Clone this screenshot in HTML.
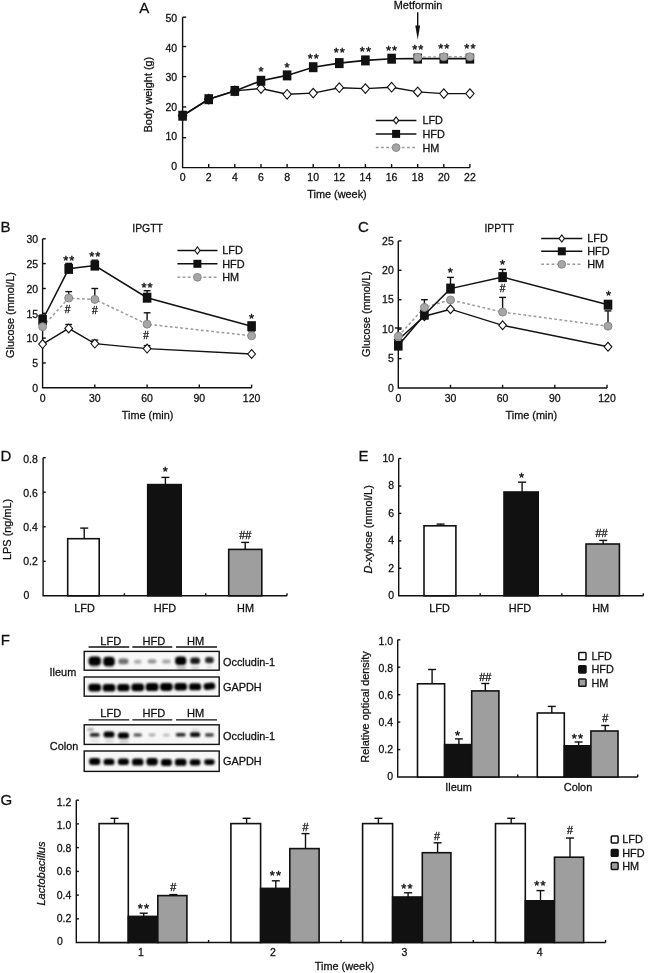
<!DOCTYPE html>
<html lang="en"><head><meta charset="utf-8"><title>Figure</title>
<style>html,body{margin:0;padding:0;background:#fff}svg{display:block;filter:blur(.35px)}text{stroke:#111;stroke-width:.28px}</style></head><body>
<svg width="650" height="973" viewBox="0 0 650 973" font-family='"Liberation Sans", sans-serif'>
<defs><filter id="bl" x="-5%" y="-50%" width="110%" height="200%"><feGaussianBlur stdDeviation="0.85"/></filter><filter id="bl2" x="-5%" y="-50%" width="110%" height="200%"><feGaussianBlur stdDeviation="0.7"/></filter><filter id="bl3" x="-5%" y="-50%" width="110%" height="200%"><feGaussianBlur stdDeviation="1.05"/></filter></defs>
<rect width="650" height="973" fill="#fff"/>
<polyline points="182.6,17.2 182.6,167.6 469.9,167.6" fill="none" stroke="#111" stroke-width="1.4" />
<line x1="208.7" y1="167.6" x2="208.7" y2="164.0" stroke="#111" stroke-width="1.4" />
<line x1="234.8" y1="167.6" x2="234.8" y2="164.0" stroke="#111" stroke-width="1.4" />
<line x1="261.0" y1="167.6" x2="261.0" y2="164.0" stroke="#111" stroke-width="1.4" />
<line x1="287.1" y1="167.6" x2="287.1" y2="164.0" stroke="#111" stroke-width="1.4" />
<line x1="313.2" y1="167.6" x2="313.2" y2="164.0" stroke="#111" stroke-width="1.4" />
<line x1="339.3" y1="167.6" x2="339.3" y2="164.0" stroke="#111" stroke-width="1.4" />
<line x1="365.4" y1="167.6" x2="365.4" y2="164.0" stroke="#111" stroke-width="1.4" />
<line x1="391.6" y1="167.6" x2="391.6" y2="164.0" stroke="#111" stroke-width="1.4" />
<line x1="417.7" y1="167.6" x2="417.7" y2="164.0" stroke="#111" stroke-width="1.4" />
<line x1="443.8" y1="167.6" x2="443.8" y2="164.0" stroke="#111" stroke-width="1.4" />
<line x1="469.9" y1="167.6" x2="469.9" y2="164.0" stroke="#111" stroke-width="1.4" />
<line x1="182.6" y1="137.7" x2="186.2" y2="137.7" stroke="#111" stroke-width="1.4" />
<line x1="182.6" y1="107.0" x2="186.2" y2="107.0" stroke="#111" stroke-width="1.4" />
<line x1="182.6" y1="76.6" x2="186.2" y2="76.6" stroke="#111" stroke-width="1.4" />
<line x1="182.6" y1="46.5" x2="186.2" y2="46.5" stroke="#111" stroke-width="1.4" />
<line x1="182.6" y1="17.2" x2="186.2" y2="17.2" stroke="#111" stroke-width="1.4" />
<text x="177.2" y="169.6" font-size="10.5" text-anchor="end" fill="#111" >0</text>
<text x="177.2" y="140.1" font-size="10.5" text-anchor="end" fill="#111" >10</text>
<text x="177.2" y="110.6" font-size="10.5" text-anchor="end" fill="#111" >20</text>
<text x="177.2" y="81.1" font-size="10.5" text-anchor="end" fill="#111" >30</text>
<text x="177.2" y="51.6" font-size="10.5" text-anchor="end" fill="#111" >40</text>
<text x="177.2" y="22.1" font-size="10.5" text-anchor="end" fill="#111" >50</text>
<text x="182.6" y="181.0" font-size="10.5" text-anchor="middle" fill="#111" >0</text>
<text x="208.7" y="181.0" font-size="10.5" text-anchor="middle" fill="#111" >2</text>
<text x="234.8" y="181.0" font-size="10.5" text-anchor="middle" fill="#111" >4</text>
<text x="261.0" y="181.0" font-size="10.5" text-anchor="middle" fill="#111" >6</text>
<text x="287.1" y="181.0" font-size="10.5" text-anchor="middle" fill="#111" >8</text>
<text x="313.2" y="181.0" font-size="10.5" text-anchor="middle" fill="#111" >10</text>
<text x="339.3" y="181.0" font-size="10.5" text-anchor="middle" fill="#111" >12</text>
<text x="365.4" y="181.0" font-size="10.5" text-anchor="middle" fill="#111" >14</text>
<text x="391.6" y="181.0" font-size="10.5" text-anchor="middle" fill="#111" >16</text>
<text x="417.7" y="181.0" font-size="10.5" text-anchor="middle" fill="#111" >18</text>
<text x="443.8" y="181.0" font-size="10.5" text-anchor="middle" fill="#111" >20</text>
<text x="469.9" y="181.0" font-size="10.5" text-anchor="middle" fill="#111" >22</text>
<text x="337.0" y="197.6" font-size="10.9" text-anchor="middle" fill="#111" >Time (week)</text>
<text transform="translate(152.3,94.6) rotate(-90)" font-size="10.9" text-anchor="middle" fill="#111" >Body weight (g)</text>
<text x="139.3" y="12.6" font-size="15" text-anchor="start" fill="#111" >A</text>
<polyline points="182.6,115.7 208.7,99.2 234.8,90.9 261.0,88.5 287.1,94.3 313.2,93.1 339.3,87.7 365.4,88.6 391.6,87.2 417.7,91.9 443.8,93.6 469.9,93.6" fill="none" stroke="#111" stroke-width="1.4" />
<polygon points="178.4,115.7 182.6,110.9 186.8,115.7 182.6,120.5" fill="#fff" stroke="#111" stroke-width="1.1"/>
<polygon points="204.5,99.2 208.7,94.4 212.9,99.2 208.7,104.0" fill="#fff" stroke="#111" stroke-width="1.1"/>
<polygon points="230.6,90.9 234.8,86.1 239.0,90.9 234.8,95.7" fill="#fff" stroke="#111" stroke-width="1.1"/>
<polygon points="256.8,88.5 261.0,83.7 265.2,88.5 261.0,93.3" fill="#fff" stroke="#111" stroke-width="1.1"/>
<polygon points="282.9,94.3 287.1,89.5 291.3,94.3 287.1,99.1" fill="#fff" stroke="#111" stroke-width="1.1"/>
<polygon points="309.0,93.1 313.2,88.3 317.4,93.1 313.2,97.9" fill="#fff" stroke="#111" stroke-width="1.1"/>
<polygon points="335.1,87.7 339.3,82.9 343.5,87.7 339.3,92.5" fill="#fff" stroke="#111" stroke-width="1.1"/>
<polygon points="361.2,88.6 365.4,83.8 369.6,88.6 365.4,93.4" fill="#fff" stroke="#111" stroke-width="1.1"/>
<polygon points="387.4,87.2 391.6,82.4 395.8,87.2 391.6,92.0" fill="#fff" stroke="#111" stroke-width="1.1"/>
<polygon points="413.5,91.9 417.7,87.1 421.9,91.9 417.7,96.7" fill="#fff" stroke="#111" stroke-width="1.1"/>
<polygon points="439.6,93.6 443.8,88.8 448.0,93.6 443.8,98.4" fill="#fff" stroke="#111" stroke-width="1.1"/>
<polygon points="465.7,93.6 469.9,88.8 474.1,93.6 469.9,98.4" fill="#fff" stroke="#111" stroke-width="1.1"/>
<polyline points="182.6,115.7 208.7,99.2 234.8,90.9 261.0,80.8 287.1,75.4 313.2,67.2 339.3,63.1 365.4,60.4 391.6,58.7 417.7,58.6 443.8,58.6 469.9,58.6" fill="none" stroke="#111" stroke-width="1.6" />
<rect x="178.3" y="110.7" width="8.6" height="10.0" fill="#111"/>
<rect x="204.4" y="94.2" width="8.6" height="10.0" fill="#111"/>
<rect x="230.5" y="85.9" width="8.6" height="10.0" fill="#111"/>
<rect x="256.7" y="75.8" width="8.6" height="10.0" fill="#111"/>
<rect x="282.8" y="70.4" width="8.6" height="10.0" fill="#111"/>
<rect x="308.9" y="62.2" width="8.6" height="10.0" fill="#111"/>
<rect x="335.0" y="58.1" width="8.6" height="10.0" fill="#111"/>
<rect x="361.1" y="55.4" width="8.6" height="10.0" fill="#111"/>
<rect x="387.3" y="53.7" width="8.6" height="10.0" fill="#111"/>
<rect x="413.4" y="53.6" width="8.6" height="10.0" fill="#111"/>
<rect x="439.5" y="53.6" width="8.6" height="10.0" fill="#111"/>
<rect x="465.6" y="53.6" width="8.6" height="10.0" fill="#111"/>
<polyline points="417.7,57.3 443.8,56.8 469.9,56.8" fill="none" stroke="#9a9a9a" stroke-width="1.5" stroke-dasharray="2.8,2.4"/>
<circle cx="417.7" cy="57.3" r="4.0" fill="#a6a6a6" stroke="#828282" stroke-width="0.9"/>
<circle cx="443.8" cy="56.8" r="4.0" fill="#a6a6a6" stroke="#828282" stroke-width="0.9"/>
<circle cx="469.9" cy="56.8" r="4.0" fill="#a6a6a6" stroke="#828282" stroke-width="0.9"/>
<text x="261.0" y="75.5" font-size="13" text-anchor="middle" fill="#111" letter-spacing="0" style="stroke-width:.4px">*</text>
<text x="287.1" y="71.5" font-size="13" text-anchor="middle" fill="#111" letter-spacing="0" style="stroke-width:.4px">*</text>
<text x="313.7" y="62.5" font-size="13" text-anchor="middle" fill="#111" letter-spacing="1.0" style="stroke-width:.4px">**</text>
<text x="339.8" y="57.4" font-size="13" text-anchor="middle" fill="#111" letter-spacing="1.0" style="stroke-width:.4px">**</text>
<text x="365.9" y="56.0" font-size="13" text-anchor="middle" fill="#111" letter-spacing="1.0" style="stroke-width:.4px">**</text>
<text x="392.1" y="55.2" font-size="13" text-anchor="middle" fill="#111" letter-spacing="1.0" style="stroke-width:.4px">**</text>
<text x="418.2" y="53.7" font-size="13" text-anchor="middle" fill="#111" letter-spacing="1.0" style="stroke-width:.4px">**</text>
<text x="444.3" y="52.7" font-size="13" text-anchor="middle" fill="#111" letter-spacing="1.0" style="stroke-width:.4px">**</text>
<text x="470.4" y="52.7" font-size="13" text-anchor="middle" fill="#111" letter-spacing="1.0" style="stroke-width:.4px">**</text>
<text x="418.0" y="9.4" font-size="10.9" text-anchor="middle" fill="#111" >Metformin</text>
<line x1="417.7" y1="12.3" x2="417.7" y2="27.0" stroke="#111" stroke-width="1.4" />
<polygon points="415.3,25.4 420.1,25.4 417.7,39.7" fill="#111"/>
<line x1="375.8" y1="120.4" x2="416.4" y2="120.4" stroke="#111" stroke-width="1.5" />
<polygon points="393.5,120.4 396.1,116.9 398.7,120.4 396.1,123.9" fill="#fff" stroke="#111" stroke-width="1.1"/>
<line x1="375.8" y1="133.9" x2="416.4" y2="133.9" stroke="#111" stroke-width="1.5" />
<rect x="392.1" y="129.9" width="8.0" height="8.0" fill="#111"/>
<line x1="375.8" y1="147.6" x2="416.4" y2="147.6" stroke="#9a9a9a" stroke-width="1.5" stroke-dasharray="2.8,2.4"/>
<circle cx="396.1" cy="147.6" r="3.9" fill="#a6a6a6" stroke="#828282" stroke-width="0.9"/>
<text x="422.4" y="124.3" font-size="10.9" text-anchor="start" fill="#111" >LFD</text>
<text x="422.4" y="137.8" font-size="10.9" text-anchor="start" fill="#111" >HFD</text>
<text x="422.4" y="151.5" font-size="10.9" text-anchor="start" fill="#111" >HM</text>
<polyline points="42.6,238.8 42.6,387.8 251.6,387.8" fill="none" stroke="#111" stroke-width="1.4" />
<line x1="94.8" y1="387.8" x2="94.8" y2="384.6" stroke="#111" stroke-width="1.4" />
<line x1="147.1" y1="387.8" x2="147.1" y2="384.6" stroke="#111" stroke-width="1.4" />
<line x1="199.3" y1="387.8" x2="199.3" y2="384.6" stroke="#111" stroke-width="1.4" />
<line x1="251.6" y1="387.8" x2="251.6" y2="384.6" stroke="#111" stroke-width="1.4" />
<line x1="42.6" y1="363.0" x2="45.8" y2="363.0" stroke="#111" stroke-width="1.4" />
<line x1="42.6" y1="338.1" x2="45.8" y2="338.1" stroke="#111" stroke-width="1.4" />
<line x1="42.6" y1="313.3" x2="45.8" y2="313.3" stroke="#111" stroke-width="1.4" />
<line x1="42.6" y1="288.5" x2="45.8" y2="288.5" stroke="#111" stroke-width="1.4" />
<line x1="42.6" y1="263.6" x2="45.8" y2="263.6" stroke="#111" stroke-width="1.4" />
<line x1="42.6" y1="238.8" x2="45.8" y2="238.8" stroke="#111" stroke-width="1.4" />
<text x="38.1" y="392.0" font-size="10.5" text-anchor="end" fill="#111" >0</text>
<text x="38.1" y="367.2" font-size="10.5" text-anchor="end" fill="#111" >5</text>
<text x="38.1" y="342.3" font-size="10.5" text-anchor="end" fill="#111" >10</text>
<text x="38.1" y="317.5" font-size="10.5" text-anchor="end" fill="#111" >15</text>
<text x="38.1" y="292.7" font-size="10.5" text-anchor="end" fill="#111" >20</text>
<text x="38.1" y="267.8" font-size="10.5" text-anchor="end" fill="#111" >25</text>
<text x="38.1" y="243.0" font-size="10.5" text-anchor="end" fill="#111" >30</text>
<text x="42.6" y="402.0" font-size="10.5" text-anchor="middle" fill="#111" >0</text>
<text x="94.8" y="402.0" font-size="10.5" text-anchor="middle" fill="#111" >30</text>
<text x="147.1" y="402.0" font-size="10.5" text-anchor="middle" fill="#111" >60</text>
<text x="199.3" y="402.0" font-size="10.5" text-anchor="middle" fill="#111" >90</text>
<text x="251.6" y="402.0" font-size="10.5" text-anchor="middle" fill="#111" >120</text>
<text x="147.6" y="418.5" font-size="10.9" text-anchor="middle" fill="#111" >Time (min)</text>
<text transform="translate(13.8,315.0) rotate(-90)" font-size="10.9" text-anchor="middle" fill="#111" >Glucose (mmol/L)</text>
<text x="0.6" y="232.2" font-size="15" text-anchor="start" fill="#111" >B</text>
<text x="147.6" y="231.5" font-size="10.4" text-anchor="middle" fill="#111" >IPGTT</text>
<line x1="68.7" y1="328.4" x2="68.7" y2="324.5" stroke="#111" stroke-width="1.4" />
<line x1="65.3" y1="324.5" x2="72.1" y2="324.5" stroke="#111" stroke-width="1.4" />
<line x1="94.8" y1="343.6" x2="94.8" y2="340.1" stroke="#111" stroke-width="1.4" />
<line x1="91.4" y1="340.1" x2="98.2" y2="340.1" stroke="#111" stroke-width="1.4" />
<line x1="147.1" y1="348.6" x2="147.1" y2="345.6" stroke="#111" stroke-width="1.4" />
<line x1="143.7" y1="345.6" x2="150.5" y2="345.6" stroke="#111" stroke-width="1.4" />
<line x1="68.7" y1="298.1" x2="68.7" y2="291.6" stroke="#111" stroke-width="1.4" />
<line x1="65.3" y1="291.6" x2="72.1" y2="291.6" stroke="#111" stroke-width="1.4" />
<line x1="94.8" y1="299.4" x2="94.8" y2="288.5" stroke="#111" stroke-width="1.4" />
<line x1="91.4" y1="288.5" x2="98.2" y2="288.5" stroke="#111" stroke-width="1.4" />
<line x1="147.1" y1="324.2" x2="147.1" y2="312.8" stroke="#111" stroke-width="1.4" />
<line x1="143.7" y1="312.8" x2="150.5" y2="312.8" stroke="#111" stroke-width="1.4" />
<line x1="251.6" y1="335.8" x2="251.6" y2="330.9" stroke="#111" stroke-width="1.4" />
<line x1="248.2" y1="330.9" x2="255.0" y2="330.9" stroke="#111" stroke-width="1.4" />
<line x1="42.6" y1="320.0" x2="42.6" y2="315.0" stroke="#111" stroke-width="1.4" />
<line x1="39.2" y1="315.0" x2="46.0" y2="315.0" stroke="#111" stroke-width="1.4" />
<line x1="68.7" y1="268.8" x2="68.7" y2="263.4" stroke="#111" stroke-width="1.4" />
<line x1="65.3" y1="263.4" x2="72.1" y2="263.4" stroke="#111" stroke-width="1.4" />
<line x1="94.8" y1="265.6" x2="94.8" y2="260.2" stroke="#111" stroke-width="1.4" />
<line x1="91.4" y1="260.2" x2="98.2" y2="260.2" stroke="#111" stroke-width="1.4" />
<line x1="147.1" y1="297.7" x2="147.1" y2="290.7" stroke="#111" stroke-width="1.4" />
<line x1="143.7" y1="290.7" x2="150.5" y2="290.7" stroke="#111" stroke-width="1.4" />
<polyline points="42.6,344.1 68.7,328.4 94.8,343.6 147.1,348.6 251.6,354.0" fill="none" stroke="#111" stroke-width="1.4" />
<polyline points="42.6,326.7 68.7,298.1 94.8,299.4 147.1,324.2 251.6,335.8" fill="none" stroke="#9a9a9a" stroke-width="1.5" stroke-dasharray="2.8,2.4"/>
<polyline points="42.6,320.0 68.7,268.8 94.8,265.6 147.1,297.7 251.6,326.2" fill="none" stroke="#111" stroke-width="1.5" />
<polygon points="38.7,344.1 42.6,339.7 46.5,344.1 42.6,348.5" fill="#fff" stroke="#111" stroke-width="1.1"/>
<polygon points="64.8,328.4 68.7,324.0 72.6,328.4 68.7,332.8" fill="#fff" stroke="#111" stroke-width="1.1"/>
<polygon points="90.9,343.6 94.8,339.2 98.8,343.6 94.8,348.0" fill="#fff" stroke="#111" stroke-width="1.1"/>
<polygon points="143.2,348.6 147.1,344.2 151.0,348.6 147.1,353.0" fill="#fff" stroke="#111" stroke-width="1.1"/>
<polygon points="247.7,354.0 251.6,349.6 255.5,354.0 251.6,358.4" fill="#fff" stroke="#111" stroke-width="1.1"/>
<rect x="38.3" y="315.0" width="8.6" height="10.0" fill="#111"/>
<rect x="64.4" y="263.9" width="8.6" height="10.0" fill="#111"/>
<rect x="90.5" y="260.6" width="8.6" height="10.0" fill="#111"/>
<rect x="142.8" y="292.7" width="8.6" height="10.0" fill="#111"/>
<rect x="247.3" y="321.2" width="8.6" height="10.0" fill="#111"/>
<circle cx="42.6" cy="326.7" r="4.0" fill="#a6a6a6" stroke="#828282" stroke-width="0.9"/>
<circle cx="68.7" cy="298.1" r="4.0" fill="#a6a6a6" stroke="#828282" stroke-width="0.9"/>
<circle cx="94.8" cy="299.4" r="4.0" fill="#a6a6a6" stroke="#828282" stroke-width="0.9"/>
<circle cx="147.1" cy="324.2" r="4.0" fill="#a6a6a6" stroke="#828282" stroke-width="0.9"/>
<circle cx="251.6" cy="335.8" r="4.0" fill="#a6a6a6" stroke="#828282" stroke-width="0.9"/>
<text x="69.2" y="265.0" font-size="13" text-anchor="middle" fill="#111" letter-spacing="1.0" style="stroke-width:.4px">**</text>
<text x="95.3" y="261.2" font-size="13" text-anchor="middle" fill="#111" letter-spacing="1.0" style="stroke-width:.4px">**</text>
<text x="147.6" y="292.1" font-size="13" text-anchor="middle" fill="#111" letter-spacing="1.0" style="stroke-width:.4px">**</text>
<text x="251.6" y="322.7" font-size="13" text-anchor="middle" fill="#111" letter-spacing="0" style="stroke-width:.4px">*</text>
<text x="67.7" y="312.7" font-size="10.2" text-anchor="middle" fill="#111" >#</text>
<text x="94.8" y="313.7" font-size="10.2" text-anchor="middle" fill="#111" >#</text>
<text x="146.1" y="338.7" font-size="10.2" text-anchor="middle" fill="#111" >#</text>
<line x1="177.4" y1="250.5" x2="217.5" y2="250.5" stroke="#111" stroke-width="1.5" />
<polygon points="194.8,250.5 197.4,247.0 200.0,250.5 197.4,254.0" fill="#fff" stroke="#111" stroke-width="1.1"/>
<line x1="177.4" y1="263.8" x2="217.5" y2="263.8" stroke="#111" stroke-width="1.5" />
<rect x="193.4" y="259.8" width="8.0" height="8.0" fill="#111"/>
<line x1="177.4" y1="277.3" x2="217.5" y2="277.3" stroke="#9a9a9a" stroke-width="1.5" stroke-dasharray="2.8,2.4"/>
<circle cx="197.4" cy="277.3" r="3.9" fill="#a6a6a6" stroke="#828282" stroke-width="0.9"/>
<text x="222.2" y="254.4" font-size="10.9" text-anchor="start" fill="#111" >LFD</text>
<text x="222.2" y="267.7" font-size="10.9" text-anchor="start" fill="#111" >HFD</text>
<text x="222.2" y="281.2" font-size="10.9" text-anchor="start" fill="#111" >HM</text>
<polyline points="398.3,240.9 398.3,388.0 607.0,388.0" fill="none" stroke="#111" stroke-width="1.4" />
<line x1="450.5" y1="388.0" x2="450.5" y2="384.8" stroke="#111" stroke-width="1.4" />
<line x1="502.6" y1="388.0" x2="502.6" y2="384.8" stroke="#111" stroke-width="1.4" />
<line x1="554.8" y1="388.0" x2="554.8" y2="384.8" stroke="#111" stroke-width="1.4" />
<line x1="607.0" y1="388.0" x2="607.0" y2="384.8" stroke="#111" stroke-width="1.4" />
<line x1="398.3" y1="358.6" x2="401.5" y2="358.6" stroke="#111" stroke-width="1.4" />
<line x1="398.3" y1="329.2" x2="401.5" y2="329.2" stroke="#111" stroke-width="1.4" />
<line x1="398.3" y1="299.7" x2="401.5" y2="299.7" stroke="#111" stroke-width="1.4" />
<line x1="398.3" y1="270.3" x2="401.5" y2="270.3" stroke="#111" stroke-width="1.4" />
<line x1="398.3" y1="240.9" x2="401.5" y2="240.9" stroke="#111" stroke-width="1.4" />
<text x="393.8" y="391.7" font-size="10.5" text-anchor="end" fill="#111" >0</text>
<text x="393.8" y="362.3" font-size="10.5" text-anchor="end" fill="#111" >5</text>
<text x="393.8" y="332.9" font-size="10.5" text-anchor="end" fill="#111" >10</text>
<text x="393.8" y="303.4" font-size="10.5" text-anchor="end" fill="#111" >15</text>
<text x="393.8" y="274.0" font-size="10.5" text-anchor="end" fill="#111" >20</text>
<text x="393.8" y="244.6" font-size="10.5" text-anchor="end" fill="#111" >25</text>
<text x="398.3" y="401.5" font-size="10.5" text-anchor="middle" fill="#111" >0</text>
<text x="450.5" y="401.5" font-size="10.5" text-anchor="middle" fill="#111" >30</text>
<text x="502.6" y="401.5" font-size="10.5" text-anchor="middle" fill="#111" >60</text>
<text x="554.8" y="401.5" font-size="10.5" text-anchor="middle" fill="#111" >90</text>
<text x="607.0" y="401.5" font-size="10.5" text-anchor="middle" fill="#111" >120</text>
<text x="531.3" y="418.7" font-size="10.9" text-anchor="middle" fill="#111" >Time (min)</text>
<text transform="translate(370.0,314.0) rotate(-90)" font-size="10.9" text-anchor="middle" fill="#111" >Glucose (mmol/L)</text>
<text x="358.0" y="232.2" font-size="15" text-anchor="start" fill="#111" >C</text>
<text x="499.2" y="231.5" font-size="10.4" text-anchor="middle" fill="#111" >IPPTT</text>
<line x1="398.3" y1="336.2" x2="398.3" y2="328.0" stroke="#111" stroke-width="1.4" />
<line x1="394.9" y1="328.0" x2="401.7" y2="328.0" stroke="#111" stroke-width="1.4" />
<line x1="424.4" y1="307.4" x2="424.4" y2="299.7" stroke="#111" stroke-width="1.4" />
<line x1="421.0" y1="299.7" x2="427.8" y2="299.7" stroke="#111" stroke-width="1.4" />
<line x1="502.6" y1="312.1" x2="502.6" y2="297.4" stroke="#111" stroke-width="1.4" />
<line x1="499.2" y1="297.4" x2="506.0" y2="297.4" stroke="#111" stroke-width="1.4" />
<line x1="608.0" y1="326.2" x2="608.0" y2="310.9" stroke="#111" stroke-width="1.4" />
<line x1="604.6" y1="310.9" x2="611.4" y2="310.9" stroke="#111" stroke-width="1.4" />
<line x1="450.5" y1="288.6" x2="450.5" y2="277.4" stroke="#111" stroke-width="1.4" />
<line x1="447.1" y1="277.4" x2="453.9" y2="277.4" stroke="#111" stroke-width="1.4" />
<line x1="502.6" y1="277.1" x2="502.6" y2="269.4" stroke="#111" stroke-width="1.4" />
<line x1="499.2" y1="269.4" x2="506.0" y2="269.4" stroke="#111" stroke-width="1.4" />
<polyline points="398.3,339.8 424.4,316.2 450.5,309.2 502.6,325.3 608.0,346.8" fill="none" stroke="#111" stroke-width="1.4" />
<polyline points="398.3,336.2 424.4,307.4 450.5,299.9 502.6,312.1 608.0,326.2" fill="none" stroke="#9a9a9a" stroke-width="1.5" stroke-dasharray="2.8,2.4"/>
<polyline points="398.3,345.6 424.4,314.7 450.5,288.6 502.6,277.1 608.0,304.7" fill="none" stroke="#111" stroke-width="1.5" />
<polygon points="394.4,339.8 398.3,335.4 402.2,339.8 398.3,344.2" fill="#fff" stroke="#111" stroke-width="1.1"/>
<polygon points="420.5,316.2 424.4,311.8 428.3,316.2 424.4,320.6" fill="#fff" stroke="#111" stroke-width="1.1"/>
<polygon points="446.6,309.2 450.5,304.8 454.4,309.2 450.5,313.6" fill="#fff" stroke="#111" stroke-width="1.1"/>
<polygon points="498.8,325.3 502.6,320.9 506.5,325.3 502.6,329.7" fill="#fff" stroke="#111" stroke-width="1.1"/>
<polygon points="604.1,346.8 608.0,342.4 611.9,346.8 608.0,351.2" fill="#fff" stroke="#111" stroke-width="1.1"/>
<rect x="394.0" y="340.6" width="8.6" height="10.0" fill="#111"/>
<rect x="420.1" y="309.7" width="8.6" height="10.0" fill="#111"/>
<rect x="446.2" y="283.6" width="8.6" height="10.0" fill="#111"/>
<rect x="498.3" y="272.1" width="8.6" height="10.0" fill="#111"/>
<rect x="603.7" y="299.7" width="8.6" height="10.0" fill="#111"/>
<circle cx="398.3" cy="336.2" r="4.0" fill="#a6a6a6" stroke="#828282" stroke-width="0.9"/>
<circle cx="424.4" cy="307.4" r="4.0" fill="#a6a6a6" stroke="#828282" stroke-width="0.9"/>
<circle cx="450.5" cy="299.9" r="4.0" fill="#a6a6a6" stroke="#828282" stroke-width="0.9"/>
<circle cx="502.6" cy="312.1" r="4.0" fill="#a6a6a6" stroke="#828282" stroke-width="0.9"/>
<circle cx="608.0" cy="326.2" r="4.0" fill="#a6a6a6" stroke="#828282" stroke-width="0.9"/>
<text x="450.2" y="277.4" font-size="13" text-anchor="middle" fill="#111" letter-spacing="0" style="stroke-width:.4px">*</text>
<text x="502.6" y="269.3" font-size="13" text-anchor="middle" fill="#111" letter-spacing="0" style="stroke-width:.4px">*</text>
<text x="608.5" y="299.8" font-size="13" text-anchor="middle" fill="#111" letter-spacing="0" style="stroke-width:.4px">*</text>
<text x="502.6" y="291.9" font-size="10.2" text-anchor="middle" fill="#111" >#</text>
<line x1="541.2" y1="238.5" x2="582.3" y2="238.5" stroke="#111" stroke-width="1.5" />
<polygon points="559.1,238.5 561.8,235.0 564.4,238.5 561.8,242.0" fill="#fff" stroke="#111" stroke-width="1.1"/>
<line x1="541.2" y1="251.3" x2="582.3" y2="251.3" stroke="#111" stroke-width="1.5" />
<rect x="557.8" y="247.3" width="8.0" height="8.0" fill="#111"/>
<line x1="541.2" y1="264.3" x2="582.3" y2="264.3" stroke="#9a9a9a" stroke-width="1.5" stroke-dasharray="2.8,2.4"/>
<circle cx="561.8" cy="264.3" r="3.9" fill="#a6a6a6" stroke="#828282" stroke-width="0.9"/>
<text x="587.2" y="242.4" font-size="10.9" text-anchor="start" fill="#111" >LFD</text>
<text x="587.2" y="255.2" font-size="10.9" text-anchor="start" fill="#111" >HFD</text>
<text x="587.2" y="268.2" font-size="10.9" text-anchor="start" fill="#111" >HM</text>
<polyline points="43.1,457.7 43.1,595.8 287.0,595.8" fill="none" stroke="#111" stroke-width="1.4" />
<line x1="124.4" y1="595.8" x2="124.4" y2="593.2" stroke="#111" stroke-width="1.4" />
<line x1="205.7" y1="595.8" x2="205.7" y2="593.2" stroke="#111" stroke-width="1.4" />
<line x1="287.0" y1="595.8" x2="287.0" y2="593.2" stroke="#111" stroke-width="1.4" />
<line x1="43.1" y1="561.3" x2="45.7" y2="561.3" stroke="#111" stroke-width="1.4" />
<line x1="43.1" y1="526.8" x2="45.7" y2="526.8" stroke="#111" stroke-width="1.4" />
<line x1="43.1" y1="492.2" x2="45.7" y2="492.2" stroke="#111" stroke-width="1.4" />
<line x1="43.1" y1="457.7" x2="45.7" y2="457.7" stroke="#111" stroke-width="1.4" />
<text x="23.6" y="599.4" font-size="10.5" text-anchor="start" fill="#111" >0</text>
<text x="37.9" y="565.1" font-size="10.5" text-anchor="end" fill="#111" >0.2</text>
<text x="37.9" y="531.0" font-size="10.5" text-anchor="end" fill="#111" >0.4</text>
<text x="37.9" y="496.8" font-size="10.5" text-anchor="end" fill="#111" >0.6</text>
<text x="37.9" y="462.6" font-size="10.5" text-anchor="end" fill="#111" >0.8</text>
<text x="84.5" y="612.3" font-size="10.9" text-anchor="middle" fill="#111" >LFD</text>
<text x="165.0" y="612.3" font-size="10.9" text-anchor="middle" fill="#111" >HFD</text>
<text x="245.5" y="612.3" font-size="10.9" text-anchor="middle" fill="#111" >HM</text>
<text transform="translate(11.0,529.4) rotate(-90)" font-size="10.9" text-anchor="middle" fill="#111" >LPS (ng/mL)</text>
<text x="0.4" y="460.8" font-size="15" text-anchor="start" fill="#111" >D</text>
<line x1="84.2" y1="538.7" x2="84.2" y2="528.1" stroke="#111" stroke-width="1.4" />
<line x1="80.2" y1="528.1" x2="88.2" y2="528.1" stroke="#111" stroke-width="1.4" />
<rect x="67.7" y="538.7" width="31.5" height="57.1" fill="#fff" stroke="#111" stroke-width="1.6"/>
<line x1="165.4" y1="484.6" x2="165.4" y2="477.4" stroke="#111" stroke-width="1.4" />
<line x1="161.4" y1="477.4" x2="169.4" y2="477.4" stroke="#111" stroke-width="1.4" />
<rect x="147.7" y="484.6" width="33.5" height="111.2" fill="#111" stroke="#111" stroke-width="1.6"/>
<line x1="245.2" y1="549.4" x2="245.2" y2="542.4" stroke="#111" stroke-width="1.4" />
<line x1="241.2" y1="542.4" x2="249.2" y2="542.4" stroke="#111" stroke-width="1.4" />
<rect x="228.7" y="549.4" width="33.1" height="46.4" fill="#9e9e9e" stroke="#111" stroke-width="1.6"/>
<text x="165.4" y="476.0" font-size="13" text-anchor="middle" fill="#111" letter-spacing="0" style="stroke-width:.4px">*</text>
<text x="245.3" y="538.7" font-size="10.8" text-anchor="middle" fill="#111" >##</text>
<polyline points="398.7,458.5 398.7,595.8 643.3,595.8" fill="none" stroke="#111" stroke-width="1.4" />
<line x1="480.2" y1="595.8" x2="480.2" y2="593.2" stroke="#111" stroke-width="1.4" />
<line x1="561.8" y1="595.8" x2="561.8" y2="593.2" stroke="#111" stroke-width="1.4" />
<line x1="643.3" y1="595.8" x2="643.3" y2="593.2" stroke="#111" stroke-width="1.4" />
<line x1="398.7" y1="568.3" x2="401.3" y2="568.3" stroke="#111" stroke-width="1.4" />
<line x1="398.7" y1="540.9" x2="401.3" y2="540.9" stroke="#111" stroke-width="1.4" />
<line x1="398.7" y1="513.4" x2="401.3" y2="513.4" stroke="#111" stroke-width="1.4" />
<line x1="398.7" y1="486.0" x2="401.3" y2="486.0" stroke="#111" stroke-width="1.4" />
<line x1="398.7" y1="458.5" x2="401.3" y2="458.5" stroke="#111" stroke-width="1.4" />
<text x="394.1" y="599.2" font-size="10.5" text-anchor="end" fill="#111" >0</text>
<text x="394.1" y="571.7" font-size="10.5" text-anchor="end" fill="#111" >2</text>
<text x="394.1" y="544.3" font-size="10.5" text-anchor="end" fill="#111" >4</text>
<text x="394.1" y="516.8" font-size="10.5" text-anchor="end" fill="#111" >6</text>
<text x="394.1" y="489.4" font-size="10.5" text-anchor="end" fill="#111" >8</text>
<text x="394.1" y="461.9" font-size="10.5" text-anchor="end" fill="#111" >10</text>
<text x="439.5" y="612.3" font-size="10.9" text-anchor="middle" fill="#111" >LFD</text>
<text x="520.0" y="612.3" font-size="10.9" text-anchor="middle" fill="#111" >HFD</text>
<text x="600.6" y="612.3" font-size="10.9" text-anchor="middle" fill="#111" >HM</text>
<text transform="translate(372.0,529.4) rotate(-90)" font-size="10.9" text-anchor="middle" fill="#111"><tspan font-style="italic">D</tspan>-xylose (mmol/L)</text>
<text x="358.5" y="461.2" font-size="15" text-anchor="start" fill="#111" >E</text>
<line x1="440.6" y1="525.8" x2="440.6" y2="524.1" stroke="#111" stroke-width="1.4" />
<line x1="436.6" y1="524.1" x2="444.6" y2="524.1" stroke="#111" stroke-width="1.4" />
<rect x="424.0" y="525.8" width="31.9" height="70.0" fill="#fff" stroke="#111" stroke-width="1.6"/>
<line x1="522.1" y1="492.0" x2="522.1" y2="482.2" stroke="#111" stroke-width="1.4" />
<line x1="518.1" y1="482.2" x2="526.1" y2="482.2" stroke="#111" stroke-width="1.4" />
<rect x="504.0" y="492.0" width="34.2" height="103.8" fill="#111" stroke="#111" stroke-width="1.6"/>
<line x1="603.2" y1="544.0" x2="603.2" y2="540.4" stroke="#111" stroke-width="1.4" />
<line x1="599.2" y1="540.4" x2="607.2" y2="540.4" stroke="#111" stroke-width="1.4" />
<rect x="586.0" y="544.0" width="33.4" height="51.8" fill="#9e9e9e" stroke="#111" stroke-width="1.6"/>
<text x="521.6" y="482.2" font-size="13" text-anchor="middle" fill="#111" letter-spacing="0" style="stroke-width:.4px">*</text>
<text x="601.6" y="537.1" font-size="10.8" text-anchor="middle" fill="#111" >##</text>
<text x="0.8" y="645.2" font-size="15" text-anchor="start" fill="#111" >F</text>
<line x1="88.6" y1="647.0" x2="129.2" y2="647.0" stroke="#111" stroke-width="1.4" />
<line x1="132.3" y1="647.0" x2="172.3" y2="647.0" stroke="#111" stroke-width="1.4" />
<line x1="176.0" y1="647.0" x2="217.0" y2="647.0" stroke="#111" stroke-width="1.4" />
<text x="110.8" y="644.8" font-size="11.1" text-anchor="middle" fill="#111" >LFD</text>
<text x="153.8" y="644.8" font-size="11.1" text-anchor="middle" fill="#111" >HFD</text>
<text x="195.6" y="644.8" font-size="11.1" text-anchor="middle" fill="#111" >HM</text>
<line x1="88.6" y1="719.9" x2="129.2" y2="719.9" stroke="#111" stroke-width="1.4" />
<line x1="132.3" y1="719.9" x2="172.3" y2="719.9" stroke="#111" stroke-width="1.4" />
<line x1="176.0" y1="719.9" x2="217.0" y2="719.9" stroke="#111" stroke-width="1.4" />
<text x="110.8" y="717.0" font-size="11.1" text-anchor="middle" fill="#111" >LFD</text>
<text x="153.8" y="717.0" font-size="11.1" text-anchor="middle" fill="#111" >HFD</text>
<text x="195.6" y="717.0" font-size="11.1" text-anchor="middle" fill="#111" >HM</text>
<rect x="84.2" y="651.4" width="135.0" height="18.8" fill="#f7f7f7"/>
<g filter="url(#bl)">
<rect x="88.5" y="656.5" width="12.4" height="9.2" rx="3.9" fill="#000" fill-opacity="1" transform="rotate(0 94.7 661.1)"/>
<rect x="103.2" y="656.8" width="11.6" height="9.4" rx="3.9" fill="#000" fill-opacity="1" transform="rotate(0 109.0 661.5)"/>
<rect x="118.4" y="658.5" width="10.0" height="5.8" rx="2.4" fill="#000" fill-opacity="0.55" transform="rotate(0 123.4 661.4)"/>
<rect x="134.0" y="659.7" width="7.5" height="4.0" rx="1.7" fill="#000" fill-opacity="0.3" transform="rotate(0 137.7 661.7)"/>
<rect x="147.8" y="659.3" width="8.5" height="4.2" rx="1.8" fill="#000" fill-opacity="0.4" transform="rotate(0 152.1 661.4)"/>
<rect x="162.2" y="659.4" width="8.5" height="4.2" rx="1.8" fill="#000" fill-opacity="0.33" transform="rotate(0 166.4 661.5)"/>
<rect x="175.1" y="656.5" width="11.2" height="8.6" rx="3.6" fill="#000" fill-opacity="1" transform="rotate(0 180.7 660.8)"/>
<rect x="190.3" y="657.4" width="9.6" height="6.6" rx="2.8" fill="#000" fill-opacity="0.9" transform="rotate(0 195.1 660.7)"/>
<rect x="205.1" y="656.9" width="8.6" height="6.4" rx="2.7" fill="#000" fill-opacity="0.85" transform="rotate(0 209.4 660.1)"/>
<rect x="90.2" y="666.4" width="9" height="2.4" rx="0.7" fill="#000" fill-opacity="0.18"/>
<rect x="105.7" y="666.9" width="8" height="2.2" rx="0.7" fill="#000" fill-opacity="0.12"/>
<rect x="176.8" y="666.5" width="9" height="2.6" rx="0.7" fill="#000" fill-opacity="0.3"/>
<rect x="191.8" y="666.4" width="7" height="2.4" rx="0.7" fill="#000" fill-opacity="0.2"/>
<rect x="206.9" y="665.9" width="5" height="2.2" rx="0.7" fill="#000" fill-opacity="0.12"/>
</g>
<rect x="84.2" y="651.4" width="135.0" height="18.8" fill="none" stroke="#111" stroke-width="1.4"/>
<rect x="84.2" y="677.0" width="135.0" height="19.2" fill="#f7f7f7"/>
<g filter="url(#bl)">
<rect x="88.4" y="683.8" width="12.6" height="7.6" rx="3.2" fill="#000" fill-opacity="1" transform="rotate(0 94.7 687.6)"/>
<rect x="102.7" y="684.0" width="12.6" height="7.6" rx="3.2" fill="#000" fill-opacity="1" transform="rotate(0 109.0 687.8)"/>
<rect x="117.2" y="683.9" width="12.4" height="7.4" rx="3.1" fill="#000" fill-opacity="1" transform="rotate(0 123.4 687.6)"/>
<rect x="131.4" y="683.4" width="12.6" height="7.8" rx="3.3" fill="#000" fill-opacity="1" transform="rotate(0 137.7 687.3)"/>
<rect x="145.7" y="682.9" width="12.8" height="8.2" rx="3.4" fill="#000" fill-opacity="1" transform="rotate(0 152.1 687.0)"/>
<rect x="160.1" y="683.1" width="12.6" height="7.8" rx="3.3" fill="#000" fill-opacity="1" transform="rotate(0 166.4 687.0)"/>
<rect x="174.4" y="682.9" width="12.6" height="7.6" rx="3.2" fill="#000" fill-opacity="1" transform="rotate(0 180.7 686.7)"/>
<rect x="189.1" y="683.3" width="12.0" height="7.0" rx="2.9" fill="#000" fill-opacity="1" transform="rotate(0 195.1 686.8)"/>
<rect x="203.6" y="682.8" width="11.6" height="6.8" rx="2.9" fill="#000" fill-opacity="1" transform="rotate(-8 209.4 686.2)"/>
</g>
<rect x="84.2" y="677.0" width="135.0" height="19.2" fill="none" stroke="#111" stroke-width="1.4"/>
<rect x="84.2" y="724.8" width="135.0" height="19.6" fill="#f7f7f7"/>
<g filter="url(#bl3)">
<rect x="89.9" y="733.0" width="9.6" height="3.8" rx="1.6" fill="#000" fill-opacity="0.85" transform="rotate(0 94.7 734.9)"/>
<rect x="103.6" y="731.6" width="10.8" height="6.0" rx="2.5" fill="#000" fill-opacity="1" transform="rotate(0 109.0 734.6)"/>
<rect x="117.9" y="732.4" width="11.0" height="6.0" rx="2.5" fill="#000" fill-opacity="1" transform="rotate(0 123.4 735.4)"/>
<rect x="133.7" y="733.4" width="8.0" height="3.2" rx="1.3" fill="#000" fill-opacity="0.7" transform="rotate(0 137.7 735.0)"/>
<rect x="148.8" y="733.6" width="6.5" height="2.8" rx="1.2" fill="#000" fill-opacity="0.3" transform="rotate(0 152.1 735.0)"/>
<rect x="163.2" y="733.8" width="6.5" height="2.8" rx="1.2" fill="#000" fill-opacity="0.25" transform="rotate(0 166.4 735.2)"/>
<rect x="175.8" y="733.0" width="9.8" height="3.6" rx="1.5" fill="#000" fill-opacity="0.85" transform="rotate(0 180.7 734.8)"/>
<rect x="190.0" y="732.2" width="10.2" height="4.8" rx="2.0" fill="#000" fill-opacity="0.95" transform="rotate(0 195.1 734.6)"/>
<rect x="205.1" y="733.3" width="8.6" height="3.4" rx="1.4" fill="#000" fill-opacity="0.75" transform="rotate(0 209.4 735.0)"/>
<rect x="87.5" y="728.1" width="6" height="3.0" rx="0.7" fill="#000" fill-opacity="0.3"/>
<rect x="105.2" y="739.8" width="9" height="2.4" rx="0.7" fill="#000" fill-opacity="0.14"/>
<rect x="119.5" y="740.3" width="9" height="2.6" rx="0.7" fill="#000" fill-opacity="0.2"/>
<rect x="90.7" y="739.5" width="8" height="2.2" rx="0.7" fill="#000" fill-opacity="0.1"/>
<rect x="191.8" y="728.6" width="7" height="2.4" rx="0.7" fill="#000" fill-opacity="0.12"/>
</g>
<rect x="84.2" y="724.8" width="135.0" height="19.6" fill="none" stroke="#111" stroke-width="1.4"/>
<rect x="84.2" y="751.0" width="135.0" height="20.4" fill="#f7f7f7"/>
<g filter="url(#bl)">
<rect x="89.1" y="758.1" width="11.2" height="6.8" rx="2.9" fill="#000" fill-opacity="1" transform="rotate(0 94.7 761.5)"/>
<rect x="103.6" y="758.7" width="10.8" height="6.4" rx="2.7" fill="#000" fill-opacity="1" transform="rotate(0 109.0 761.9)"/>
<rect x="117.9" y="758.4" width="11.0" height="6.6" rx="2.8" fill="#000" fill-opacity="1" transform="rotate(0 123.4 761.7)"/>
<rect x="132.0" y="758.6" width="11.4" height="7.0" rx="2.9" fill="#000" fill-opacity="1" transform="rotate(0 137.7 762.1)"/>
<rect x="146.4" y="758.0" width="11.4" height="7.4" rx="3.1" fill="#000" fill-opacity="1" transform="rotate(0 152.1 761.7)"/>
<rect x="160.9" y="759.1" width="11.0" height="6.8" rx="2.9" fill="#000" fill-opacity="1" transform="rotate(0 166.4 762.5)"/>
<rect x="174.9" y="758.8" width="11.6" height="7.0" rx="2.9" fill="#000" fill-opacity="1" transform="rotate(0 180.7 762.3)"/>
<rect x="189.7" y="759.2" width="10.8" height="6.2" rx="2.6" fill="#000" fill-opacity="1" transform="rotate(0 195.1 762.3)"/>
<rect x="204.2" y="759.2" width="10.4" height="5.8" rx="2.4" fill="#000" fill-opacity="1" transform="rotate(0 209.4 762.1)"/>
</g>
<rect x="84.2" y="751.0" width="135.0" height="20.4" fill="none" stroke="#111" stroke-width="1.4"/>
<text x="223.0" y="665.8" font-size="10.9" text-anchor="start" fill="#111" >Occludin-1</text>
<text x="223.0" y="691.3" font-size="10.9" text-anchor="start" fill="#111" >GAPDH</text>
<text x="223.0" y="740.0" font-size="10.9" text-anchor="start" fill="#111" >Occludin-1</text>
<text x="223.0" y="765.3" font-size="10.9" text-anchor="start" fill="#111" >GAPDH</text>
<text x="49.6" y="676.0" font-size="10.9" text-anchor="start" fill="#111" >Ileum</text>
<text x="49.8" y="750.0" font-size="10.9" text-anchor="start" fill="#111" >Colon</text>
<polyline points="397.7,639.8 397.7,777.0 637.7,777.0" fill="none" stroke="#111" stroke-width="1.4" />
<line x1="517.7" y1="777.0" x2="517.7" y2="774.4" stroke="#111" stroke-width="1.4" />
<line x1="637.7" y1="777.0" x2="637.7" y2="774.4" stroke="#111" stroke-width="1.4" />
<line x1="397.7" y1="749.6" x2="400.3" y2="749.6" stroke="#111" stroke-width="1.4" />
<line x1="397.7" y1="722.1" x2="400.3" y2="722.1" stroke="#111" stroke-width="1.4" />
<line x1="397.7" y1="694.7" x2="400.3" y2="694.7" stroke="#111" stroke-width="1.4" />
<line x1="397.7" y1="667.2" x2="400.3" y2="667.2" stroke="#111" stroke-width="1.4" />
<line x1="397.7" y1="639.8" x2="400.3" y2="639.8" stroke="#111" stroke-width="1.4" />
<text x="393.0" y="779.5" font-size="10.5" text-anchor="end" fill="#111" >0</text>
<text x="393.0" y="752.5" font-size="10.5" text-anchor="end" fill="#111" >0.2</text>
<text x="393.0" y="725.6" font-size="10.5" text-anchor="end" fill="#111" >0.4</text>
<text x="393.0" y="698.7" font-size="10.5" text-anchor="end" fill="#111" >0.6</text>
<text x="393.0" y="671.7" font-size="10.5" text-anchor="end" fill="#111" >0.8</text>
<text x="393.0" y="644.8" font-size="10.5" text-anchor="end" fill="#111" >1.0</text>
<text x="458.6" y="791.2" font-size="10.9" text-anchor="middle" fill="#111" >Ileum</text>
<text x="578.0" y="791.2" font-size="10.9" text-anchor="middle" fill="#111" >Colon</text>
<text transform="translate(369.0,707.0) rotate(-90)" font-size="10.9" text-anchor="middle" fill="#111" >Relative optical density</text>
<line x1="432.1" y1="683.8" x2="432.1" y2="669.5" stroke="#111" stroke-width="1.4" />
<line x1="428.1" y1="669.5" x2="436.1" y2="669.5" stroke="#111" stroke-width="1.4" />
<rect x="417.5" y="683.8" width="27.1" height="93.2" fill="#fff" stroke="#111" stroke-width="1.6"/>
<line x1="458.9" y1="744.6" x2="458.9" y2="738.9" stroke="#111" stroke-width="1.4" />
<line x1="454.9" y1="738.9" x2="462.9" y2="738.9" stroke="#111" stroke-width="1.4" />
<rect x="444.6" y="744.6" width="27.1" height="32.4" fill="#111" stroke="#111" stroke-width="1.6"/>
<line x1="485.3" y1="690.9" x2="485.3" y2="683.5" stroke="#111" stroke-width="1.4" />
<line x1="481.3" y1="683.5" x2="489.3" y2="683.5" stroke="#111" stroke-width="1.4" />
<rect x="471.7" y="690.9" width="27.2" height="86.1" fill="#9e9e9e" stroke="#111" stroke-width="1.6"/>
<line x1="551.8" y1="713.0" x2="551.8" y2="706.4" stroke="#111" stroke-width="1.4" />
<line x1="547.8" y1="706.4" x2="555.8" y2="706.4" stroke="#111" stroke-width="1.4" />
<rect x="537.3" y="713.0" width="27.0" height="64.0" fill="#fff" stroke="#111" stroke-width="1.6"/>
<line x1="578.6" y1="745.8" x2="578.6" y2="742.0" stroke="#111" stroke-width="1.4" />
<line x1="574.6" y1="742.0" x2="582.6" y2="742.0" stroke="#111" stroke-width="1.4" />
<rect x="564.3" y="745.8" width="26.6" height="31.2" fill="#111" stroke="#111" stroke-width="1.6"/>
<line x1="605.2" y1="731.0" x2="605.2" y2="725.5" stroke="#111" stroke-width="1.4" />
<line x1="601.2" y1="725.5" x2="609.2" y2="725.5" stroke="#111" stroke-width="1.4" />
<rect x="590.9" y="731.0" width="27.1" height="46.0" fill="#9e9e9e" stroke="#111" stroke-width="1.6"/>
<text x="457.6" y="740.4" font-size="13" text-anchor="middle" fill="#111" letter-spacing="0" style="stroke-width:.4px">*</text>
<text x="485.3" y="680.9" font-size="10.8" text-anchor="middle" fill="#111" >##</text>
<text x="577.9" y="742.8" font-size="13" text-anchor="middle" fill="#111" letter-spacing="1.0" style="stroke-width:.4px">**</text>
<text x="605.2" y="721.7" font-size="10.8" text-anchor="middle" fill="#111" >#</text>
<rect x="578.8" y="652.6" width="7.2" height="7.2" rx="0.8" fill="#fff" stroke="#111" stroke-width="1.5"/>
<text x="591.4" y="660.1" font-size="10.9" text-anchor="start" fill="#111" >LFD</text>
<rect x="578.8" y="665.7" width="7.2" height="7.2" rx="0.8" fill="#111" stroke="#111" stroke-width="1.5"/>
<text x="591.4" y="673.2" font-size="10.9" text-anchor="start" fill="#111" >HFD</text>
<rect x="578.8" y="679.0" width="7.2" height="7.2" rx="0.8" fill="#9e9e9e" stroke="#111" stroke-width="1.5"/>
<text x="591.4" y="686.5" font-size="10.9" text-anchor="start" fill="#111" >HM</text>
<polyline points="76.3,800.2 76.3,942.5 605.6,942.5" fill="none" stroke="#111" stroke-width="1.4" />
<line x1="208.6" y1="942.5" x2="208.6" y2="939.9" stroke="#111" stroke-width="1.4" />
<line x1="341.0" y1="942.5" x2="341.0" y2="939.9" stroke="#111" stroke-width="1.4" />
<line x1="473.3" y1="942.5" x2="473.3" y2="939.9" stroke="#111" stroke-width="1.4" />
<line x1="605.6" y1="942.5" x2="605.6" y2="939.9" stroke="#111" stroke-width="1.4" />
<line x1="76.3" y1="918.8" x2="78.9" y2="918.8" stroke="#111" stroke-width="1.4" />
<line x1="76.3" y1="895.1" x2="78.9" y2="895.1" stroke="#111" stroke-width="1.4" />
<line x1="76.3" y1="871.4" x2="78.9" y2="871.4" stroke="#111" stroke-width="1.4" />
<line x1="76.3" y1="847.6" x2="78.9" y2="847.6" stroke="#111" stroke-width="1.4" />
<line x1="76.3" y1="823.9" x2="78.9" y2="823.9" stroke="#111" stroke-width="1.4" />
<line x1="76.3" y1="800.2" x2="78.9" y2="800.2" stroke="#111" stroke-width="1.4" />
<text x="56.9" y="945.2" font-size="10.5" text-anchor="start" fill="#111" >0</text>
<text x="71.4" y="922.0" font-size="10.5" text-anchor="end" fill="#111" >0.2</text>
<text x="71.4" y="898.6" font-size="10.5" text-anchor="end" fill="#111" >0.4</text>
<text x="71.4" y="875.4" font-size="10.5" text-anchor="end" fill="#111" >0.6</text>
<text x="71.4" y="852.0" font-size="10.5" text-anchor="end" fill="#111" >0.8</text>
<text x="71.4" y="828.8" font-size="10.5" text-anchor="end" fill="#111" >1.0</text>
<text x="71.4" y="805.5" font-size="10.5" text-anchor="end" fill="#111" >1.2</text>
<text x="0.6" y="805.2" font-size="15" text-anchor="start" fill="#111" >G</text>
<text transform="translate(45.0,873.5) rotate(-90)" font-size="11.1" text-anchor="middle" fill="#111" font-style="italic">Lactobacillus</text>
<text x="344.5" y="970.2" font-size="10.9" text-anchor="middle" fill="#111" >Time (week)</text>
<line x1="114.5" y1="823.6" x2="114.5" y2="818.3" stroke="#111" stroke-width="1.4" />
<line x1="110.5" y1="818.3" x2="118.5" y2="818.3" stroke="#111" stroke-width="1.4" />
<rect x="99.1" y="823.6" width="29.2" height="118.9" fill="#fff" stroke="#111" stroke-width="1.6"/>
<line x1="143.7" y1="916.4" x2="143.7" y2="913.2" stroke="#111" stroke-width="1.4" />
<line x1="139.7" y1="913.2" x2="147.7" y2="913.2" stroke="#111" stroke-width="1.4" />
<rect x="128.3" y="916.4" width="29.5" height="26.1" fill="#111" stroke="#111" stroke-width="1.6"/>
<line x1="173.4" y1="895.6" x2="173.4" y2="894.6" stroke="#111" stroke-width="1.4" />
<line x1="169.4" y1="894.6" x2="177.4" y2="894.6" stroke="#111" stroke-width="1.4" />
<rect x="157.8" y="895.6" width="29.1" height="46.9" fill="#9e9e9e" stroke="#111" stroke-width="1.6"/>
<text x="141.0" y="956.0" font-size="10.5" text-anchor="middle" fill="#111" >1</text>
<text x="143.9" y="913.3" font-size="13" text-anchor="middle" fill="#111" letter-spacing="1.0" style="stroke-width:.4px">**</text>
<text x="173.3" y="890.6" font-size="10.8" text-anchor="middle" fill="#111" >#</text>
<line x1="246.6" y1="823.6" x2="246.6" y2="818.3" stroke="#111" stroke-width="1.4" />
<line x1="242.6" y1="818.3" x2="250.6" y2="818.3" stroke="#111" stroke-width="1.4" />
<rect x="230.9" y="823.6" width="29.7" height="118.9" fill="#fff" stroke="#111" stroke-width="1.6"/>
<line x1="275.8" y1="888.4" x2="275.8" y2="880.8" stroke="#111" stroke-width="1.4" />
<line x1="271.8" y1="880.8" x2="279.8" y2="880.8" stroke="#111" stroke-width="1.4" />
<rect x="260.6" y="888.4" width="29.2" height="54.1" fill="#111" stroke="#111" stroke-width="1.6"/>
<line x1="305.5" y1="848.6" x2="305.5" y2="833.6" stroke="#111" stroke-width="1.4" />
<line x1="301.5" y1="833.6" x2="309.5" y2="833.6" stroke="#111" stroke-width="1.4" />
<rect x="289.8" y="848.6" width="29.3" height="93.9" fill="#9e9e9e" stroke="#111" stroke-width="1.6"/>
<text x="273.0" y="956.0" font-size="10.5" text-anchor="middle" fill="#111" >2</text>
<text x="275.9" y="880.1" font-size="13" text-anchor="middle" fill="#111" letter-spacing="1.0" style="stroke-width:.4px">**</text>
<text x="305.4" y="831.2" font-size="10.8" text-anchor="middle" fill="#111" >#</text>
<line x1="378.4" y1="823.6" x2="378.4" y2="818.3" stroke="#111" stroke-width="1.4" />
<line x1="374.4" y1="818.3" x2="382.4" y2="818.3" stroke="#111" stroke-width="1.4" />
<rect x="362.6" y="823.6" width="30.0" height="118.9" fill="#fff" stroke="#111" stroke-width="1.6"/>
<line x1="408.1" y1="897.0" x2="408.1" y2="892.8" stroke="#111" stroke-width="1.4" />
<line x1="404.1" y1="892.8" x2="412.1" y2="892.8" stroke="#111" stroke-width="1.4" />
<rect x="392.6" y="897.0" width="29.7" height="45.5" fill="#111" stroke="#111" stroke-width="1.6"/>
<line x1="437.6" y1="852.7" x2="437.6" y2="842.8" stroke="#111" stroke-width="1.4" />
<line x1="433.6" y1="842.8" x2="441.6" y2="842.8" stroke="#111" stroke-width="1.4" />
<rect x="422.3" y="852.7" width="28.6" height="89.8" fill="#9e9e9e" stroke="#111" stroke-width="1.6"/>
<text x="404.4" y="956.0" font-size="10.5" text-anchor="middle" fill="#111" >3</text>
<text x="407.4" y="892.6" font-size="13" text-anchor="middle" fill="#111" letter-spacing="1.0" style="stroke-width:.4px">**</text>
<text x="436.9" y="839.9" font-size="10.8" text-anchor="middle" fill="#111" >#</text>
<line x1="511.2" y1="823.6" x2="511.2" y2="818.3" stroke="#111" stroke-width="1.4" />
<line x1="507.2" y1="818.3" x2="515.2" y2="818.3" stroke="#111" stroke-width="1.4" />
<rect x="495.5" y="823.6" width="29.8" height="118.9" fill="#fff" stroke="#111" stroke-width="1.6"/>
<line x1="540.5" y1="900.8" x2="540.5" y2="890.6" stroke="#111" stroke-width="1.4" />
<line x1="536.5" y1="890.6" x2="544.5" y2="890.6" stroke="#111" stroke-width="1.4" />
<rect x="525.3" y="900.8" width="29.2" height="41.7" fill="#111" stroke="#111" stroke-width="1.6"/>
<line x1="570.0" y1="857.2" x2="570.0" y2="838.0" stroke="#111" stroke-width="1.4" />
<line x1="566.0" y1="838.0" x2="574.0" y2="838.0" stroke="#111" stroke-width="1.4" />
<rect x="554.5" y="857.2" width="29.1" height="85.3" fill="#9e9e9e" stroke="#111" stroke-width="1.6"/>
<text x="539.6" y="956.0" font-size="10.5" text-anchor="middle" fill="#111" >4</text>
<text x="540.4" y="889.9" font-size="13" text-anchor="middle" fill="#111" letter-spacing="1.0" style="stroke-width:.4px">**</text>
<text x="569.9" y="834.1" font-size="10.8" text-anchor="middle" fill="#111" >#</text>
<rect x="611.3" y="836.1" width="6.8" height="6.8" rx="0.8" fill="#fff" stroke="#111" stroke-width="1.5"/>
<text x="622.2" y="843.4" font-size="10.9" text-anchor="start" fill="#111" >LFD</text>
<rect x="611.3" y="849.4" width="6.8" height="6.8" rx="0.8" fill="#111" stroke="#111" stroke-width="1.5"/>
<text x="622.2" y="856.7" font-size="10.9" text-anchor="start" fill="#111" >HFD</text>
<rect x="611.3" y="862.6" width="6.8" height="6.8" rx="0.8" fill="#9e9e9e" stroke="#111" stroke-width="1.5"/>
<text x="622.2" y="869.9" font-size="10.9" text-anchor="start" fill="#111" >HM</text>
</svg></body></html>
